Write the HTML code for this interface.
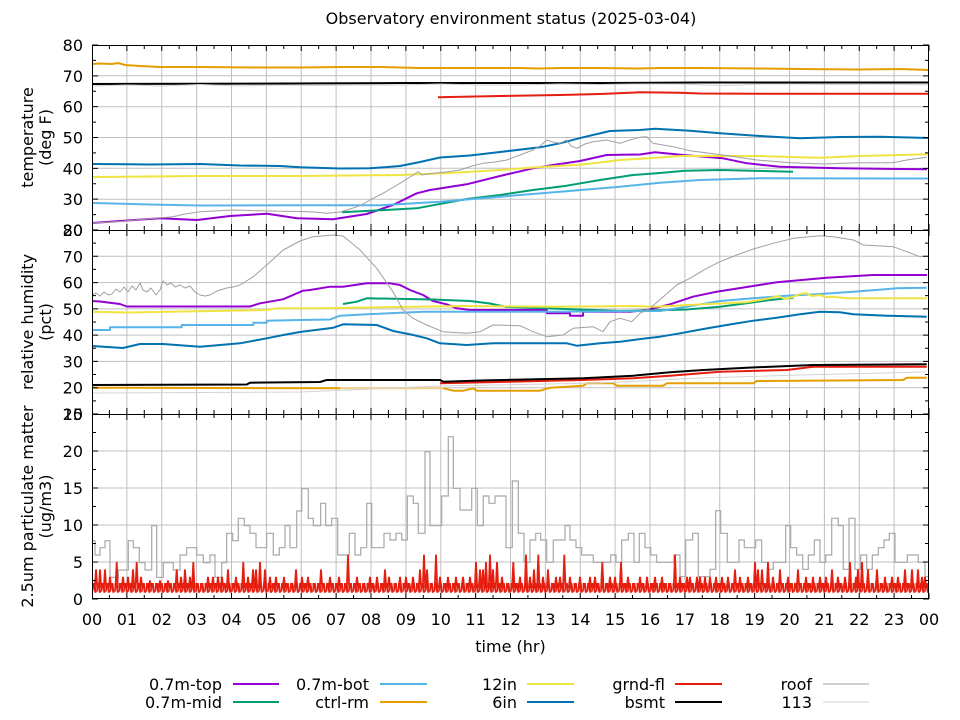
<!DOCTYPE html>
<html><head><meta charset="utf-8"><style>
html,body{margin:0;padding:0;background:#fff;}
svg{display:block;}
text{font-family:"DejaVu Sans","Liberation Sans",sans-serif;font-size:16px;fill:#000;}
</style></head><body>
<svg width="960" height="720" viewBox="0 0 960 720" xmlns="http://www.w3.org/2000/svg">
<defs>
<pattern id="zz" patternUnits="userSpaceOnUse" x="92" y="0" width="4.5" height="720">
<polyline points="0,591.6 1.1,584.2 2.3,584.2 3.4,591.6 4.5,591.6" fill="none" stroke="#e51e10" stroke-width="2.3"/>
</pattern>
</defs>
<rect width="960" height="720" fill="#fff"/>

<!-- grid -->
<g stroke="#c0c0c0" stroke-width="1" fill="none">
<path d="M126.9 45V599M161.75 45V599M196.6 45V599M231.5 45V599M266.4 45V599M301.25 45V599M336.1 45V599M371 45V599M405.9 45V599M440.75 45V599M475.6 45V599M510.5 45V599M545.4 45V599M580.25 45V599M615.1 45V599M650 45V599M684.9 45V599M719.75 45V599M754.6 45V599M789.5 45V599M824.4 45V599M859.25 45V599M894.1 45V599"/>
<path d="M92 75.8H929M92 106.7H929M92 137.5H929M92 168.3H929M92 199.2H929M92 256.3H929M92 282.6H929M92 308.9H929M92 335.1H929M92 361.4H929M92 387.7H929M92 451H929M92 488H929M92 525H929M92 562H929"/>
</g>

<!-- ===== Panel 1: temperature ===== -->
<g fill="none" stroke-linejoin="round">
<polyline stroke="#9400d3" stroke-width="2" points="92,223 120,221 160,218.3 197,220 230,216 267,213.7 297,218.3 333,219.3 366.7,214 393,205 416.7,193.3 430,190 466.7,184.3 500,176 533,168.3 553,165 580,161 606.7,155 640,154.5 655,152.3 683,155 723,158.3 747,163.3 780,166.7 840,168.3 927,169.3"/>
<polyline stroke="#009e73" stroke-width="2" points="342,212.3 416.7,208.3 466.7,199 500,195 533,190 566.7,185.7 600,180 633,175 660,173 685,170.7 720,170 793,171.7"/>
<polyline stroke="#56b4e9" stroke-width="2" points="92,203 150,204.5 200,205.5 300,205.3 380,205.3 440,201.7 500,196.7 560,191.7 620,186.7 660,182.7 700,180 760,178.3 929,178.5"/>
<polyline stroke="#e69f00" stroke-width="2" points="92,64 100,63.5 112,64 118,63 125,65 140,66 160,67 200,67 260,67.5 300,67.5 340,67 380,67 420,68 460,68 520,68 540,68.5 560,68 600,68 640,68.5 660,68 700,68 760,68.5 800,69 860,69.5 900,69 929,70"/>
<polyline stroke="#f0e442" stroke-width="2" points="92,177 150,176.5 200,176 300,176 400,175 450,173 500,170 540,167 583,164.5 620,160 660,157.5 680,156 760,156 800,157.3 820,157.7 860,156 929,154.3"/>
<polyline stroke="#0072b2" stroke-width="2" points="92,164 150,164.5 200,164 240,165.5 280,166 300,167.3 340,168.5 370,168.3 400,166 420,162 440,157.5 470,155.5 500,152 540,147.3 560,143.3 583,137.3 610,131 640,130 655,128.7 690,130.7 720,133.3 760,136 800,138.3 840,137 880,136.7 929,138"/>
<polyline stroke="#e51e10" stroke-width="2" points="438,97.3 500,96 560,95 600,94 640,92.3 680,92.8 700,93.5 760,93.7 929,93.7"/>
<polyline stroke="#000" stroke-width="2" points="92,84 200,83.8 400,83 600,83 700,82.5 929,82.5"/>
<polyline stroke="#a0a0a0" stroke-width="1" points="92,223 120,221.5 143,219.3 158,218 173,216.7 185,214 200,211.7 233,210 267,211 300,211.5 315,212 326.7,213.3 340,212 350,209 360,205.7 372,199 383,193.3 392,188 400,183.3 410,177 418.3,171.7 421.7,175 433,173.3 446,172 460,170 472,166 483,163.3 495,162 506.7,160 520,155 533,150 540,146 546.7,140 553,142 560,143.3 566.7,140 571,146 576.7,148.3 585,144 593,141.7 606.7,140 620,143.3 630,140 640,137.3 646.7,136.7 653,143.3 673,146.7 690,150.7 723,155 756.7,160 790,162.7 823,164 856.7,162.7 893,162.7 906.7,160 926.7,157.3"/>
<polyline stroke="#d0d0d0" stroke-width="1" points="92,86 130,85 160,86 200,84.5 240,86 280,85 320,85.5 360,85 400,85 440,84 480,85 520,85 560,84 600,84.5 640,84 680,84 720,85.5 740,85 760,84 800,84 840,84.5 880,84 929,85"/>
</g>

<!-- ===== Panel 2: humidity ===== -->
<g fill="none" stroke-linejoin="round">
<polyline stroke="#9400d3" stroke-width="2" points="92,301 100,301.5 120,304 126.7,306.5 250,306.5 260,303.3 283,299.3 293,295 303,290.7 310,290 330,286.7 343,286.7 366.7,283.3 390,283.3 400,285 410,290 423,295 433,301 446.7,304.3 456.7,308.3 470,310 546.7,310 547,313.3 570,313.3 570,315.7 583,315.7 583,311.7 630,311.7 646.7,310 670,304.3 693,296.7 716.7,291.7 753,286 776.7,282.3 826.7,277.7 873,275 927,275"/>
<polyline stroke="#009e73" stroke-width="2" points="343,304 356.7,301.7 366.7,298.3 433,299.5 470,301 490,303.5 506.7,307 580,309.5 620,311 650,310.5 686.7,309.5 720,306.7 746.7,303.3 770,300 793.3,297.7"/>
<polyline stroke="#56b4e9" stroke-width="2" points="92,330 110,330 110,327.3 181.7,327.3 181.7,325 253.3,325 253.3,322.7 266.7,322.7 266.7,320.7 300,320 330,319.5 340,315.7 366.7,314.3 423.3,311.7 546.7,311.7 660,311 686.7,306.7 720,301 753.3,298.3 786.7,295.7 820,294 853.3,291.7 896.7,288.3 926.7,287.7"/>
<polyline stroke="#e69f00" stroke-width="2" points="92,387.7 340,388.3"/>
<polyline stroke="#f3cf8a" stroke-width="2" points="340,388.3 443,388.3"/>
<polyline stroke="#e69f00" stroke-width="2" points="443.3,388.3 453.3,390.7 463.3,390.7 473.3,388.3 476.7,390.7 540,390.7 550,387.7 583.3,385.7 586.7,383.3 613.3,383.3 616.7,385.7 663.3,385.7 666.7,383.3 753.3,383.3 756.7,381 903.3,380 906.7,377.7 926.7,377.7"/>
<polyline stroke="#f0e442" stroke-width="2" points="92,311.7 126.7,312.5 266.7,310 276.7,308.3 320,308.3 413,306.7 466.7,306 550,306.7 633,306 653,306.7 703.3,304.3 746.7,302.3 760,300 770,298.3 778,296 785,299 793.3,296.7 800,294 806.7,293.3 812,296 820,295 826,297 833.3,296.7 846.7,298.3 926.7,298.3"/>
<polyline stroke="#0072b2" stroke-width="2" points="92,346 123,348 140,344 163,344 200,346.7 240,343.3 266.7,338.3 283.3,335 300,332 333.3,327.7 343.3,324.3 376.7,325 393.3,331 413.3,335 426.7,338.3 440,343.3 466.7,345 493.3,343.3 566.7,343.3 576.7,345.7 600,343.3 620,341.7 646.7,338.3 660,336.7 680,333.3 703.3,329 726.7,325 753.3,320.7 776.7,317.7 800,314.3 820,311.7 840,312.3 853.3,314.3 886.7,315.7 926.7,316.7"/>
<polyline stroke="#e51e10" stroke-width="2" points="440,383.3 583.3,380 633.3,378.3 670,375.7 720,371.7 786.7,370 813.3,366.7 926.7,366.7"/>
<polyline stroke="#000" stroke-width="2" points="92,385 246.7,384.5 250,382.7 320,382 326.7,380 440,380 443.3,381.7 480,380.5 583.3,378.3 633.3,375.7 670,372.3 703.3,370 746.7,367.7 813.3,365 926.7,364.3"/>
<polyline stroke="#a0a0a0" stroke-width="1" points="92,295 96,293 100,296 104,292 108,295 112,294 116,289 120,292 124,287 128,292 132,286 136,290 140,283 143,290 147,292 151,288 156,295 160,290 163,281 167,285 171,283 175,287 180,285 185,288 190,286 195,292 200,295 205,296 210,295 215,292 220,290 226.7,288 233,287 240,285 253.3,276.7 266.7,265 283.3,250 300,241 313,236.7 333,235 343,236 360,250 376.7,268.3 393,291.7 403,310 413,318.3 426.7,325 443,331.7 466.7,333.3 480,331.7 493,325 520,325.7 533,331.7 546.7,336.7 563,335 573,328.3 593,326.7 603,331.7 610,321.7 620,318.3 631.7,321.7 640,313.3 650,308.3 663.3,296.7 676.7,285 690,278.3 706.7,268.3 720,261.7 736.7,255 753.3,249 773.3,243.3 793.3,238.3 820,235.7 833,236.7 853.3,240 863.3,245 893.3,246.7 906.7,251.7 920,256.7 926.7,256"/>
<polyline stroke="#d3d3d3" stroke-width="1" points="92,393 200,392.5 300,392 440,386 600,383 700,378 800,375 926,372"/>
</g>

<!-- ===== Panel 3: PM2.5 ===== -->
<g fill="none" stroke-linejoin="miter">
<polyline stroke="#a8a8a8" stroke-width="1.2" points="92,540.7 95,540.7 95,555 100,555 100,547.7 105,547.7 105,540.7 110,540.7 110,577.3 118.3,577.3 118.3,570 128.3,570 128.3,540.7 133.3,540.7 133.3,547.7 139.3,547.7 139.3,562.7 145,562.7 145,570 151.7,570 151.7,525.7 156.7,525.7 156.7,577.3 163.3,577.3 163.3,562.7 173.3,562.7 173.3,570 180,570 180,555 186.7,555 186.7,547.7 196.7,547.7 196.7,555 203.3,555 203.3,562.7 210,562.7 210,555 215,555 215,577.3 221.7,577.3 221.7,562.7 226.7,562.7 226.7,533.3 232.7,533.3 232.7,540.7 238.3,540.7 238.3,518.3 244.3,518.3 244.3,525.7 250,525.7 250,533.3 256,533.3 256,547.7 266.7,547.7 266.7,533.3 273.3,533.3 273.3,555 279.3,555 279.3,547.7 285,547.7 285,525.7 290,525.7 290,547.7 296.7,547.7 296.7,511 301.7,511 301.7,488.7 308.3,488.7 308.3,518.3 313.3,518.3 313.3,525.7 320.7,525.7 320.7,503.3 325.7,503.3 325.7,525.7 331.7,525.7 331.7,518.3 337.7,518.3 337.7,555 349.3,555 349.3,533.3 355,533.3 355,555 360.7,555 360.7,547.7 366.7,547.7 366.7,503.3 371.7,503.3 371.7,547.7 384,547.7 384,533.3 390,533.3 390,540 396,540 396,533.3 401.7,533.3 401.7,540 407.3,540 407.3,496 413.3,496 413.3,503.3 418.3,503.3 418.3,533.3 425,533.3 425,451.7 430,451.7 430,525.7 441.7,525.7 441.7,496 448.3,496 448.3,436.7 453.3,436.7 453.3,488.3 460,488.3 460,510 471.7,510 471.7,488.3 477.3,488.3 477.3,525.7 483.3,525.7 483.3,496 489,496 489,503.3 495,503.3 495,496 506,496 506,547.7 512.3,547.7 512.3,481 518.3,481 518.3,533.3 524,533.3 524,562.3 530,562.3 530,540 535.7,540 535.7,533.3 540.7,533.3 540.7,540 546.7,540 546.7,562.3 553.3,562.3 553.3,540 565,540 565,525.7 570,525.7 570,540 576,540 576,547.7 581.7,547.7 581.7,555 593.3,555 593.3,562.3 610.7,562.3 610.7,555 616,555 616,562.3 621.7,562.3 621.7,540 628.3,540 628.3,533.3 634,533.3 634,562.3 639.3,562.3 639.3,533.3 645,533.3 645,547.7 650.7,547.7 650.7,555 656.7,555 656.7,562.3 674,562.3 674,555 680,555 680,576.7 685.7,576.7 685.7,540 692.7,540 692.7,533.3 698.3,533.3 698.3,576.7 710,576.7 710,569.3 715.7,569.3 715.7,510.7 720.7,510.7 720.7,533.3 727.3,533.3 727.3,562.3 739,562.3 739,540 744.3,540 744.3,547.7 755.7,547.7 755.7,540 761.7,540 761.7,562.3 767.7,562.3 767.7,569.3 773.3,569.3 773.3,562.3 785.7,562.3 785.7,525.7 790.7,525.7 790.7,547.7 796.7,547.7 796.7,555 802.7,555 802.7,569.3 808.3,569.3 808.3,555 814.3,555 814.3,540 820,540 820,562.3 825.7,562.3 825.7,555 831.7,555 831.7,518.3 838.3,518.3 838.3,525.7 843.3,525.7 843.3,569.3 849,569.3 849,518.3 855,518.3 855,569.3 860.7,569.3 860.7,555 866.7,555 866.7,569.3 872.3,569.3 872.3,555 878.3,555 878.3,547.7 884,547.7 884,540 889.3,540 889.3,533.3 895,533.3 895,562.3 907.3,562.3 907.3,555 918.3,555 918.3,562.3 925,562.3 925,576.7 928.5,576.7"/>
<rect x="92" y="581" width="837" height="13" fill="url(#zz)" stroke="none"/>
<path stroke="#e51e10" stroke-width="1.8" d="M94.8,588L96,569.4L97.2,588M98.8,588L100,569.4L101.2,588M103.8,588L105,569.4L106.2,588M108.8,588L110,576.8L111.2,588M115.5,588L116.7,562L117.9,588M121.8,588L123,576.8L124.2,588M126.8,588L128,576.8L129.2,588M131.8,588L133,569.4L134.2,588M135.5,588L136.7,562L137.9,588M139.8,588L141,576.8L142.2,588M148.8,588L150,580.5L151.2,588M158.8,588L160,580.5L161.2,588M166.8,588L168,580.5L169.2,588M175.5,588L176.7,569.4L177.9,588M179.8,588L181,576.8L182.2,588M183.8,588L185,569.4L186.2,588M188.8,588L190,576.8L191.2,588M192.1,588L193.3,562L194.5,588M206.8,588L208,576.8L209.2,588M211.8,588L213,576.8L214.2,588M216.8,588L218,576.8L219.2,588M220.8,588L222,576.8L223.2,588M226.8,588L228,569.4L229.2,588M234.8,588L236,576.8L237.2,588M242.1,588L243.3,562L244.5,588M246.8,588L248,576.8L249.2,588M251.8,588L253,569.4L254.2,588M254.8,588L256,569.4L257.2,588M258.8,588L260,562L261.2,588M263.8,588L265,569.4L266.2,588M268.8,588L270,576.8L271.2,588M274.8,588L276,576.8L277.2,588M282.8,588L284,576.8L285.2,588M294.8,588L296,569.4L297.2,588M300.8,588L302,576.8L303.2,588M306.8,588L308,576.8L309.2,588M319.8,588L321,569.4L322.2,588M328.8,588L330,576.8L331.2,588M337.8,588L339,576.8L340.2,588M346.8,588L348,554.6L349.2,588M355.8,588L357,576.8L358.2,588M368.8,588L370,576.8L371.2,588M375.8,588L377,576.8L378.2,588M383.8,588L385,569.4L386.2,588M387.8,588L389,576.8L390.2,588M398.8,588L400,576.8L401.2,588M404.8,588L406,576.8L407.2,588M411.8,588L413,576.8L414.2,588M418.8,588L420,569.4L421.2,588M422.8,588L424,554.6L425.2,588M425.8,588L427,569.4L428.2,588M434.8,588L436,554.6L437.2,588M438.8,588L440,576.8L441.2,588M446.8,588L448,576.8L449.2,588M454.8,588L456,576.8L457.2,588M461.8,588L463,576.8L464.2,588M468.8,588L470,576.8L471.2,588M474.8,588L476,562L477.2,588M478.8,588L480,569.4L481.2,588M481.8,588L483,569.4L484.2,588M484.8,588L486,562L487.2,588M488.8,588L490,554.6L491.2,588M491.8,588L493,569.4L494.2,588M495.8,588L497,562L498.2,588M500.8,588L502,576.8L503.2,588M512.1,588L513.3,562L514.5,588M518.8,588L520,576.8L521.2,588M524.8,588L526,554.6L527.2,588M528.8,588L530,576.8L531.2,588M532.8,588L534,569.4L535.2,588M537.1,588L538.3,554.6L539.5,588M541.8,588L543,576.8L544.2,588M546.8,588L548,569.4L549.2,588M554.8,588L556,576.8L557.2,588M558.8,588L560,576.8L561.2,588M563.1,588L564.3,554.6L565.5,588M568.8,588L570,576.8L571.2,588M578.8,588L580,576.8L581.2,588M588.8,588L590,576.8L591.2,588M593.8,588L595,576.8L596.2,588M601.1,588L602.3,562L603.5,588M608.8,588L610,576.8L611.2,588M613.8,588L615,576.8L616.2,588M619.8,588L621,562L622.2,588M626.8,588L628,576.8L629.2,588M638.8,588L640,576.8L641.2,588M645.8,588L647,576.8L648.2,588M653.8,588L655,576.8L656.2,588M660.8,588L662,576.8L663.2,588M673.8,588L675,554.6L676.2,588M678.8,588L680,576.8L681.2,588M685.8,588L687,576.8L688.2,588M688.8,588L690,576.8L691.2,588M695.8,588L697,576.8L698.2,588M698.8,588L700,576.8L701.2,588M703.8,588L705,576.8L706.2,588M708.8,588L710,576.8L711.2,588M714.8,588L716,576.8L717.2,588M720.8,588L722,576.8L723.2,588M726.8,588L728,576.8L729.2,588M733.8,588L735,569.4L736.2,588M738.8,588L740,576.8L741.2,588M746.8,588L748,576.8L749.2,588M753.8,588L755,562L756.2,588M756.8,588L758,569.4L759.2,588M760.8,588L762,569.4L763.2,588M766.8,588L768,562L769.2,588M771.8,588L773,576.8L774.2,588M778.8,588L780,569.4L781.2,588M786.8,588L788,576.8L789.2,588M796.8,588L798,569.4L799.2,588M804.8,588L806,576.8L807.2,588M811.8,588L813,576.8L814.2,588M818.8,588L820,576.8L821.2,588M824.8,588L826,576.8L827.2,588M830.8,588L832,569.4L833.2,588M836.8,588L838,576.8L839.2,588M843.8,588L845,576.8L846.2,588M848.8,588L850,562L851.2,588M854.8,588L856,576.8L857.2,588M856.8,588L858,569.4L859.2,588M860.8,588L862,562L863.2,588M866.8,588L868,569.4L869.2,588M875.8,588L877,569.4L878.2,588M883.8,588L885,576.8L886.2,588M890.8,588L892,576.8L893.2,588M896.8,588L898,576.8L899.2,588M903.8,588L905,569.4L906.2,588M910.8,588L912,569.4L913.2,588M916.8,588L918,569.4L919.2,588M920.8,588L922,576.8L923.2,588M923.8,588L925,576.8L926.2,588"/>
</g>

<!-- borders -->
<g fill="none" stroke="#000" stroke-width="1">
<rect x="92.5" y="45.5" width="836" height="553"/>
<path d="M92 230.5H929M92 414.5H929"/>
</g>

<!-- ticks -->
<g fill="none" stroke="#000">
<line x1="92" y1="48" x2="929.5" y2="48" stroke-width="6" stroke-dasharray="1 33.875" stroke-dashoffset="0.5"/>
<line x1="92" y1="230" x2="929.5" y2="230" stroke-width="12" stroke-dasharray="1 33.875" stroke-dashoffset="0.5"/>
<line x1="92" y1="414" x2="929.5" y2="414" stroke-width="12" stroke-dasharray="1 33.875" stroke-dashoffset="0.5"/>
<line x1="92" y1="596" x2="929.5" y2="596" stroke-width="6" stroke-dasharray="1 33.875" stroke-dashoffset="0.5"/>
<line x1="108.9" y1="47" x2="929" y2="47" stroke-width="4" stroke-dasharray="1 33.875"/>
<line x1="108.9" y1="230" x2="929" y2="230" stroke-width="8" stroke-dasharray="1 33.875"/>
<line x1="108.9" y1="414" x2="929" y2="414" stroke-width="8" stroke-dasharray="1 33.875"/>
<line x1="108.9" y1="597" x2="929" y2="597" stroke-width="4" stroke-dasharray="1 33.875"/>
<line x1="95" y1="44.5" x2="95" y2="230.5" stroke-width="6" stroke-dasharray="1 29.833"/>
<line x1="926" y1="44.5" x2="926" y2="230.5" stroke-width="6" stroke-dasharray="1 29.833"/>
<line x1="94" y1="59.9" x2="94" y2="230" stroke-width="4" stroke-dasharray="1 29.833"/>
<line x1="927" y1="59.9" x2="927" y2="230" stroke-width="4" stroke-dasharray="1 29.833"/>
<line x1="95" y1="229.5" x2="95" y2="414.5" stroke-width="6" stroke-dasharray="1 25.286"/>
<line x1="926" y1="229.5" x2="926" y2="414.5" stroke-width="6" stroke-dasharray="1 25.286"/>
<line x1="94" y1="242.6" x2="94" y2="414" stroke-width="4" stroke-dasharray="1 25.286"/>
<line x1="927" y1="242.6" x2="927" y2="414" stroke-width="4" stroke-dasharray="1 25.286"/>
<line x1="95" y1="413.5" x2="95" y2="599.5" stroke-width="6" stroke-dasharray="1 36"/>
<line x1="926" y1="413.5" x2="926" y2="599.5" stroke-width="6" stroke-dasharray="1 36"/>
<line x1="94" y1="432" x2="94" y2="599" stroke-width="4" stroke-dasharray="1 36"/>
<line x1="927" y1="432" x2="927" y2="599" stroke-width="4" stroke-dasharray="1 36"/>
</g>

<!-- title -->
<text x="511" y="24" text-anchor="middle">Observatory environment status (2025-03-04)</text>

<!-- y tick labels -->
<g text-anchor="end">
<text x="83" y="51">80</text>
<text x="83" y="81.8">70</text>
<text x="83" y="112.7">60</text>
<text x="83" y="143.5">50</text>
<text x="83" y="174.3">40</text>
<text x="83" y="205.2">30</text>
<text x="83" y="236">20</text>
<text x="83" y="236">80</text>
<text x="83" y="262.3">70</text>
<text x="83" y="288.6">60</text>
<text x="83" y="314.9">50</text>
<text x="83" y="341.1">40</text>
<text x="83" y="367.4">30</text>
<text x="83" y="393.7">20</text>
<text x="83" y="420">10</text>
<text x="83" y="420">25</text>
<text x="83" y="457">20</text>
<text x="83" y="494">15</text>
<text x="83" y="531">10</text>
<text x="83" y="568">5</text>
<text x="83" y="605">0</text>
</g>

<!-- x tick labels -->
<g text-anchor="middle">
<text x="92" y="625">00</text><text x="126.9" y="625">01</text><text x="161.75" y="625">02</text><text x="196.6" y="625">03</text><text x="231.5" y="625">04</text><text x="266.4" y="625">05</text><text x="301.25" y="625">06</text><text x="336.1" y="625">07</text><text x="371" y="625">08</text><text x="405.9" y="625">09</text><text x="440.75" y="625">10</text><text x="475.6" y="625">11</text><text x="510.5" y="625">12</text><text x="545.4" y="625">13</text><text x="580.25" y="625">14</text><text x="615.1" y="625">15</text><text x="650" y="625">16</text><text x="684.9" y="625">17</text><text x="719.75" y="625">18</text><text x="754.6" y="625">19</text><text x="789.5" y="625">20</text><text x="824.4" y="625">21</text><text x="859.25" y="625">22</text><text x="894.1" y="625">23</text><text x="929" y="625">00</text>
</g>

<text x="510.5" y="652" text-anchor="middle">time (hr)</text>

<!-- y axis labels -->
<g text-anchor="middle">
<text transform="translate(33,137.5) rotate(-90)">temperature</text>
<text transform="translate(51,137.5) rotate(-90)">(deg F)</text>
<text transform="translate(33,322) rotate(-90)">relative humidity</text>
<text transform="translate(51,322) rotate(-90)">(pct)</text>
<text transform="translate(33,506.5) rotate(-90)">2.5um particulate matter</text>
<text transform="translate(51,506.5) rotate(-90)">(ug/m3)</text>
</g>

<!-- legend -->
<g text-anchor="end">
<text x="222" y="690">0.7m-top</text>
<text x="222" y="708">0.7m-mid</text>
<text x="369" y="690">0.7m-bot</text>
<text x="369" y="708">ctrl-rm</text>
<text x="517" y="690">12in</text>
<text x="517" y="708">6in</text>
<text x="665" y="690">grnd-fl</text>
<text x="665" y="708">bsmt</text>
<text x="812" y="690">roof</text>
<text x="812" y="708">113</text>
</g>
<g fill="none">
<line x1="233" y1="684" x2="279" y2="684" stroke="#9400d3" stroke-width="2"/>
<line x1="233" y1="702" x2="279" y2="702" stroke="#009e73" stroke-width="2"/>
<line x1="380" y1="684" x2="427" y2="684" stroke="#56b4e9" stroke-width="2"/>
<line x1="380" y1="702" x2="427" y2="702" stroke="#e69f00" stroke-width="2"/>
<line x1="527" y1="684" x2="574" y2="684" stroke="#f0e442" stroke-width="2"/>
<line x1="527" y1="702" x2="574" y2="702" stroke="#0072b2" stroke-width="2"/>
<line x1="675" y1="684" x2="722" y2="684" stroke="#e51e10" stroke-width="2"/>
<line x1="675" y1="702" x2="722" y2="702" stroke="#000" stroke-width="2"/>
<line x1="823" y1="684" x2="869" y2="684" stroke="#a0a0a0" stroke-width="1"/>
<line x1="823" y1="702" x2="869" y2="702" stroke="#d3d3d3" stroke-width="1"/>
</g>
</svg>
</body></html>
